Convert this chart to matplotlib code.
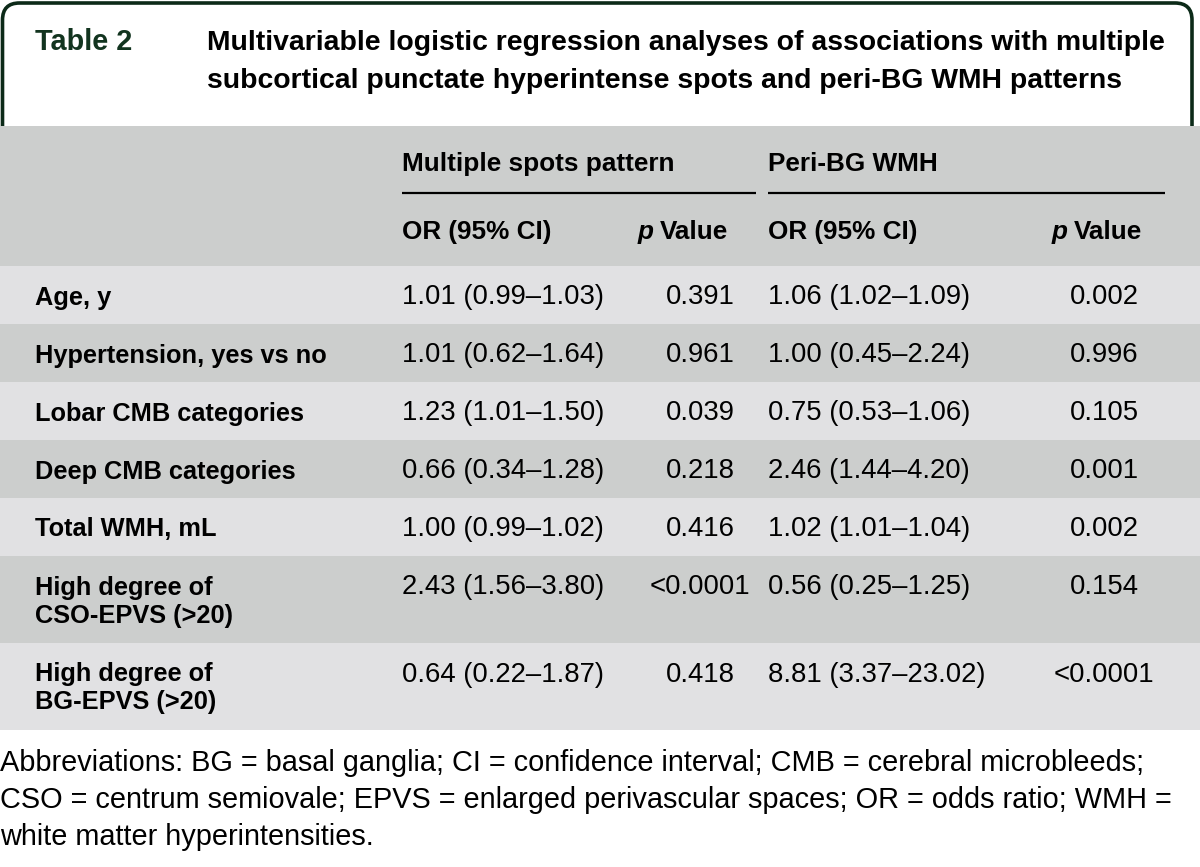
import matplotlib
matplotlib.use("Agg")
import matplotlib.pyplot as plt
from matplotlib.patches import Rectangle
from matplotlib.path import Path
from matplotlib.patches import PathPatch

# ---------------- data ----------------
table_label = "Table 2"
title_lines = [
    "Multivariable logistic regression analyses of associations with multiple",
    "subcortical punctate hyperintense spots and peri-BG WMH patterns",
]
group_headers = ["Multiple spots pattern", "Peri-BG WMH"]
sub_headers = ["OR (95% CI)", "Value"]
row_labels = [
    ["Age, y"],
    ["Hypertension, yes vs no"],
    ["Lobar CMB categories"],
    ["Deep CMB categories"],
    ["Total WMH, mL"],
    ["High degree of", "CSO-EPVS (>20)"],
    ["High degree of", "BG-EPVS (>20)"],
]
spots_or = ["1.01 (0.99–1.03)", "1.01 (0.62–1.64)", "1.23 (1.01–1.50)",
            "0.66 (0.34–1.28)", "1.00 (0.99–1.02)", "2.43 (1.56–3.80)",
            "0.64 (0.22–1.87)"]
spots_p = ["0.391", "0.961", "0.039", "0.218", "0.416", "<0.0001", "0.418"]
bg_or = ["1.06 (1.02–1.09)", "1.00 (0.45–2.24)", "0.75 (0.53–1.06)",
         "2.46 (1.44–4.20)", "1.02 (1.01–1.04)", "0.56 (0.25–1.25)",
         "8.81 (3.37–23.02)"]
bg_p = ["0.002", "0.996", "0.105", "0.001", "0.002", "0.154", "<0.0001"]
footnote_lines = [
    "Abbreviations: BG = basal ganglia; CI = confidence interval; CMB = cerebral microbleeds;",
    "CSO = centrum semiovale; EPVS = enlarged perivascular spaces; OR = odds ratio; WMH =",
    "white matter hyperintensities.",
]

# ---------------- style ----------------
W, H = 1200, 867
DARK = "#cccecd"
LIGHT = "#e1e1e3"
GREEN = "#0c2a18"
TITLE_GREEN = "#12341f"
BOLD = dict(family="Liberation Sans", weight="bold")
REG = dict(family="Liberation Sans")
FS_B = 18.3
FS_H = 18.8
FS_R = 19.8

fig = plt.figure(figsize=(W / 100, H / 100), dpi=100)
ax = fig.add_axes([0, 0, 1, 1])
ax.set_xlim(0, W)
ax.set_ylim(H, 0)
ax.axis("off")

# title box with rounded top corners (open at bottom)
r = 17
x0, x1, ytop, ybot = 2.5, 1192, 3, 126
verts = [(x0, ybot), (x0, ytop + r), (x0, ytop), (x0 + r, ytop),
         (x1 - r, ytop), (x1, ytop), (x1, ytop + r), (x1, ybot)]
codes = [Path.MOVETO, Path.LINETO, Path.CURVE3, Path.CURVE3,
         Path.LINETO, Path.CURVE3, Path.CURVE3, Path.LINETO]
ax.add_patch(PathPatch(Path(verts, codes), fill=False, edgecolor=GREEN, lw=2.6,
                       capstyle="butt", joinstyle="round"))

ax.text(35, 50, table_label, color=TITLE_GREEN, fontsize=20.8, va="baseline", **BOLD)
for i, line in enumerate(title_lines):
    ax.text(207, 50 + 38 * i, line, color="black", fontsize=20.4, va="baseline", **BOLD)

# header background
hdr_top, hdr_bot = 126, 266
ax.add_patch(Rectangle((0, hdr_top), W, hdr_bot - hdr_top, color=DARK, lw=0))

col_or = [402, 768]
col_p = [700, 1104]
p_hdr_x = [638, 1052]
ul_end = [756, 1165]
for g, name in enumerate(group_headers):
    ax.text(col_or[g], 171, name, fontsize=FS_H, va="baseline", **BOLD)
    ax.plot([col_or[g], ul_end[g]], [193, 193], color="black", lw=1.6,
            solid_capstyle="butt")
    ax.text(col_or[g], 239, sub_headers[0], fontsize=FS_H, va="baseline", **BOLD)
    px = p_hdr_x[g]
    ax.text(px, 239, "p", fontsize=FS_H, va="baseline", style="italic", **BOLD)
    ax.text(px + 22, 239, sub_headers[1], fontsize=FS_H, va="baseline", **BOLD)

# body rows
single_h, double_h = 58, 87
y = hdr_bot
for i, lab in enumerate(row_labels):
    h = single_h if len(lab) == 1 else double_h
    ax.add_patch(Rectangle((0, y), W, h, color=LIGHT if i % 2 == 0 else DARK, lw=0))
    base = y + 38.5
    for k, line in enumerate(lab):
        ax.text(35, base + 28 * k, line, fontsize=FS_B, va="baseline", **BOLD)
    ax.text(col_or[0], base, spots_or[i], fontsize=FS_R, va="baseline", **REG)
    ax.text(col_p[0], base, spots_p[i], fontsize=FS_R, va="baseline", ha="center", **REG)
    ax.text(col_or[1], base, bg_or[i], fontsize=FS_R, va="baseline", **REG)
    ax.text(col_p[1], base, bg_p[i], fontsize=FS_R, va="baseline", ha="center", **REG)
    y += h

# footnote
for i, line in enumerate(footnote_lines):
    ax.text(0, 771 + 37 * i, line, fontsize=20.8, va="baseline", **REG)

fig.savefig("out.png", dpi=100)
